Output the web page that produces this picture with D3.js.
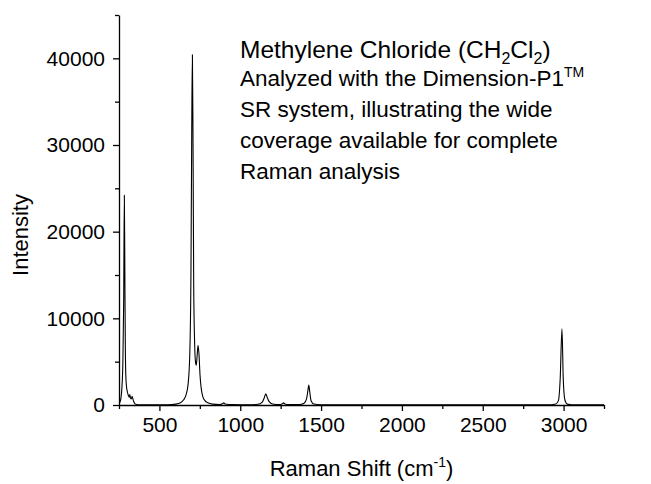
<!DOCTYPE html>
<html>
<head>
<meta charset="utf-8">
<script src="https://cdn.jsdelivr.net/npm/d3@7"></script>
<style>
  html, body { margin: 0; padding: 0; background: #fff; }
  svg { display: block; }
  text { font-family: "Liberation Sans", Arial, sans-serif; fill: #000; }
</style>
</head>
<body>
<svg id="chart" width="651" height="484"></svg>
<script>
// Raman shift (cm^-1) and intensity
const shift = [255, 262, 268, 274, 279, 283, 286, 289, 292, 296, 302, 308, 313, 317, 321, 326, 331, 336, 341, 348, 358, 380, 450, 550, 600, 630, 650, 665, 678, 688, 695, 700, 704, 708, 712, 718, 723, 728, 733, 739, 745, 751, 758, 768, 782, 800, 830, 870, 890, 898, 906, 950, 1050, 1110, 1135, 1148, 1158, 1168, 1180, 1200, 1240, 1260, 1268, 1276, 1300, 1370, 1395, 1410, 1418, 1424, 1430, 1438, 1455, 1500, 1800, 2600, 2900, 2952, 2968, 2979, 2990, 2998, 3006, 3014, 3024, 3050, 3250];
const intensity = [300, 800, 2000, 5000, 12000, 24200, 16000, 7000, 3500, 2200, 1500, 1100, 900, 1200, 800, 700, 1000, 700, 400, 150, 60, 20, 10, 30, 100, 250, 600, 1200, 2500, 6000, 15000, 32000, 40400, 30000, 14000, 7000, 5000, 4600, 5600, 6900, 5800, 3500, 2000, 1000, 500, 250, 100, 50, 150, 250, 120, 40, 30, 80, 300, 800, 1300, 800, 350, 120, 40, 150, 250, 120, 40, 60, 200, 700, 1600, 2300, 1500, 500, 120, 30, 10, 10, 20, 120, 500, 3000, 8800, 3000, 800, 300, 100, 30, 10];

const xTicks = [500, 1000, 1500, 2000, 2500, 3000];
const xMinor = [250, 750, 1250, 1750, 2250, 2750, 3250];
const yTicks = [0, 10000, 20000, 30000, 40000];
const yMinor = [5000, 15000, 25000, 35000, 45000];

const svg = d3.select("#chart");
const mLeft = 119, mRight = 604, mTop = 15, mBottom = 405;

const x = d3.scaleLinear().domain([250, 3250]).range([mLeft, mRight]);
const y = d3.scaleLinear().domain([0, 45000]).range([mBottom, mTop]);

// minor ticks
svg.append("g").attr("transform", `translate(0,${mBottom})`)
  .call(d3.axisBottom(x).tickValues(xMinor).tickSize(4).tickFormat(""))
  .call(g => g.select(".domain").remove())
  .selectAll("line").attr("stroke", "#000").attr("stroke-width", 1.3);
svg.append("g").attr("transform", `translate(${mLeft},0)`)
  .call(d3.axisLeft(y).tickValues(yMinor).tickSize(4).tickFormat(""))
  .call(g => g.select(".domain").remove())
  .selectAll("line").attr("stroke", "#000").attr("stroke-width", 1.3);

// major axes
const xAxis = svg.append("g").attr("transform", `translate(0,${mBottom})`)
  .call(d3.axisBottom(x).tickValues(xTicks).tickSize(6).tickSizeOuter(0).tickPadding(6).tickFormat(d3.format("d")));
const yAxis = svg.append("g").attr("transform", `translate(${mLeft},0)`)
  .call(d3.axisLeft(y).tickValues(yTicks).tickSize(6).tickSizeOuter(0).tickPadding(8).tickFormat(d3.format("d")));
[xAxis, yAxis].forEach(g => {
  g.select(".domain").attr("stroke", "#000").attr("stroke-width", 1.3);
  g.selectAll(".tick line").attr("stroke", "#000").attr("stroke-width", 1.3);
  g.selectAll(".tick text").attr("font-family", "Liberation Sans, Arial, sans-serif").attr("font-size", 21).attr("fill", "#000");
});

// spectrum
const pts = shift.map((s, i) => [s, intensity[i]]);
svg.append("path").datum(pts)
  .attr("fill", "none").attr("stroke", "#000").attr("stroke-width", 1.1)
  .attr("d", d3.line().x(d => x(d[0])).y(d => y(d[1])).curve(d3.curveMonotoneX));

// axis titles
const xt = svg.append("text").attr("x", (mLeft + mRight) / 2).attr("y", 476)
  .attr("text-anchor", "middle").attr("font-size", 22);
xt.append("tspan").text("Raman Shift (cm");
xt.append("tspan").attr("font-size", 14).attr("dy", -9).text("-1");
xt.append("tspan").attr("dy", 9).text(")");

svg.append("text").attr("transform", "translate(28,235) rotate(-90)")
  .attr("text-anchor", "middle").attr("font-size", 22).text("Intensity");

// annotation
const tx = 240;
const t1 = svg.append("text").attr("x", tx).attr("y", 58).attr("font-size", 24.5);
t1.append("tspan").text("Methylene Chloride (CH");
t1.append("tspan").attr("font-size", 16).attr("dy", 6).text("2");
t1.append("tspan").attr("dy", -6).text("Cl");
t1.append("tspan").attr("font-size", 16).attr("dy", 6).text("2");
t1.append("tspan").attr("dy", -6).text(")");

const lines = ["Analyzed with the Dimension-P1", "SR system, illustrating the wide", "coverage available for complete", "Raman analysis"];
const baselines = [86, 117, 148, 179];
lines.forEach((l, i) => {
  const t = svg.append("text").attr("x", tx).attr("y", baselines[i]).attr("font-size", 22.5);
  t.append("tspan").text(l);
  if (i === 0) t.append("tspan").attr("font-size", 14).attr("dy", -9).text("TM");
});
</script>
</body>
</html>
